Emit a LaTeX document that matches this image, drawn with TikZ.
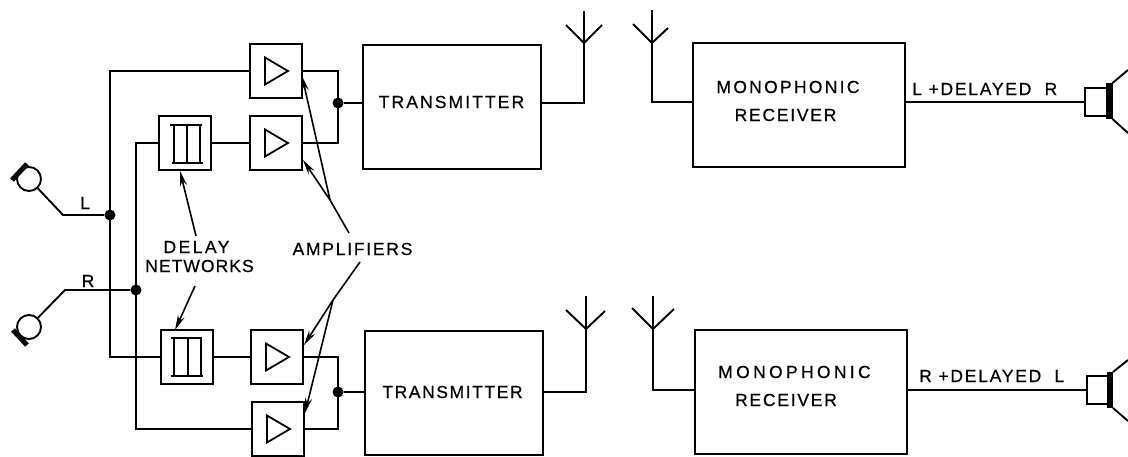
\documentclass[tikz,border=0pt]{standalone}
\usepackage{fontspec}
\setmainfont{Liberation Sans}
\newfontfamily\lab[FakeBold=0.5]{Liberation Sans}
\newcommand\lsp[1]{\addfontfeature{LetterSpace=#1}}
\usetikzlibrary{arrows.meta,calc}
\tikzset{
  wire/.style={line width=1.9pt,line join=miter},
  blk/.style={draw,line width=1.9pt,inner sep=0pt,outer sep=0pt},
  ampbox/.style={blk,minimum width=52pt,minimum height=54pt},
  dotj/.style={circle,fill=black,inner sep=0pt,minimum size=11pt},
  micr/.style={circle,draw,line width=1.9pt,inner sep=0pt,minimum size=24pt},
  micbar/.style={line width=5pt},
  lbl/.style={font=\lab\fontsize{17.5}{20}\selectfont,inner sep=0pt},
  ptr/.style={line width=1.6pt,-{Stealth[length=15pt,width=7pt]}},
  ptrl/.style={line width=1.6pt},
  tri/.style={line width=1.8pt,line join=miter},
  bars/.style={line width=1.8pt},
  spk/.style={blk,minimum width=26pt,minimum height=28pt},
  spkbar/.style={fill=black,inner sep=0pt,outer sep=0pt,minimum width=7pt}
}
\begin{document}
\begin{tikzpicture}[x=1pt,y=-1pt]
\useasboundingbox (0,0) rectangle (1128,457);
% boxes
\node[ampbox] (a1) at (276,71) {};
\node[ampbox] (a2) at (276,143) {};
\node[ampbox] (d1) at (185,143) {};
\node[ampbox] (d2) at (187,357) {};
\node[ampbox] (a3) at (277,357) {};
\node[ampbox] (a4) at (278,429) {};
\node[blk,minimum width=178pt,minimum height=124pt] (t1) at (452,107) {};
\node[blk,minimum width=178pt,minimum height=124pt] (t2) at (454,393) {};
\node[blk,minimum width=212pt,minimum height=124pt] (m1) at (799,105) {};
\node[blk,minimum width=212pt,minimum height=124pt] (m2) at (801,392) {};
% triangles
\foreach \b in {a1,a2,a3,a4}{
  \draw[tri] ($(\b.center)+(-11,-13.5)$) -- ($(\b.center)+(12,0)$) -- ($(\b.center)+(-11,13.5)$) -- cycle;
}
% delay networks
\draw[bars] (170,125) -- (202,125) (172,163) -- (203,163) (174,125) -- (174,163) (187,125) -- (187,163) (200,125) -- (200,163);
\draw[bars] (171,338) -- (202,338) (171,376) -- (203,376) (174,338) -- (174,376) (188,338) -- (188,376) (201,338) -- (201,376);
% junctions
\node[dotj] (jl) at (110,215) {};
\node[dotj] (jr) at (136,290) {};
\node[dotj] (j1) at (338,103) {};
\node[dotj] (j2) at (338,392) {};
% microphones
\node[micr] (micl) at (29,179) {};
\node[micr] (micr2) at (29,327) {};
\draw[micbar] (12,180) -- (27,164);
\draw[micbar] (13,330) -- (27,345);
\coordinate (lk) at (63,215);
\coordinate (rk) at (65,290);
\draw[wire] (micl) -- (lk) -- (jl);
\draw[wire] (micr2) -- (rk) -- (jr);
\node[lbl] (ll) at (85,203) {L};
\node[lbl] (lr) at (88,281) {R};
% inputs
\coordinate (busl) at (110,71);
\coordinate (busr) at (136,143);
\draw[wire] (a1.west) -- (a1.west -| busl) -- (d2.west -| busl) -- (d2.west);
\draw[wire] (d1.west) -- (d1.west -| busr) -- (a4.west -| busr) -- (a4.west);
\draw[wire] (d1.east) -- (a2.west);
\draw[wire] (d2.east) -- (a3.west);
% outputs
\draw[wire] (a1.east) -- (a1.east -| j1) -- (a2.east -| j1) -- (a2.east);
\draw[wire] (a3.east) -- (a3.east -| j2) -- (a4.east -| j2) -- (a4.east);
\draw[wire] (j1) -- (j1 -| t1.west);
\draw[wire] (j2) -- (j2 -| t2.west);
% antennas
\coordinate (ta1) at (584,43); \coordinate (ta2) at (586,329);
\coordinate (ra1) at (652,43); \coordinate (ra2) at (653,329);
\draw[wire] (j1 -| t1.east) -- (584,103) -- (584,11);
\draw[wire] (566,25) -- (ta1) -- (602,25);
\draw[wire] (j2 -| t2.east) -- (586,392) -- (586,296);
\draw[wire] (566,310) -- (ta2) -- (605,311);
\draw[wire] (652,10) -- (652,102) -- (m1.west |- 0,102);
\draw[wire] (633,24) -- (ra1) -- (668,28);
\draw[wire] (653,296) -- (653,390) -- (m2.west |- 0,390);
\draw[wire] (632,308) -- (ra2) -- (674,309);
% speakers
\node[spk] (s1) at (1098,102) {};
\node[spkbar,minimum height=36pt] (b1) at (1109,101) {};
\node[spk,minimum width=24pt] (s2) at (1099,390) {};
\node[spkbar,minimum height=36pt,minimum width=6pt] (b2) at (1110,390) {};
\draw[wire] (m1.east |- s1) -- (s1.west);
\draw[wire] (m2.east |- s2) -- (s2.west);
\draw[wire] (b1.north east) -- (1128,70);
\draw[wire] (b1.south east) -- (1128,133);
\draw[wire] (b2.north east) -- (1128,360);
\draw[wire] (b2.south east) -- (1128,421);
% texts
\node[lbl] (tt1) at (451.5,102) {\lsp{12}TRANSMITTER};
\node[lbl] (tt2) at (452.5,392) {\lsp{9}TRANSMITTER};
\node[lbl] (mt1) at (788,87) {\lsp{13}MONOPHONIC};
\node[lbl] (rt1) at (785.5,115) {\lsp{10}RECEIVER};
\node[lbl] (mt2) at (794.5,372) {\lsp{19}MONOPHONIC};
\node[lbl] (rt2) at (786,400) {\lsp{10}RECEIVER};
\node[lbl,anchor=west] (lp) at (912,89) {\lsp{10}L +DELAYED\ \ R};
\node[lbl,anchor=west] (rp) at (919,376) {\lsp{10}R +DELAYED\ \ L};
\node[lbl] (dl) at (196.5,247) {\lsp{14}DELAY};
\node[lbl] (nw) at (199.5,266) {\lsp{6}NETWORKS};
\node[lbl] (am) at (352.5,249) {\lsp{10}AMPLIFIERS};
% pointers
\coordinate (ap1) at (330,200);
\coordinate (ap2) at (333,300);
\coordinate (am1) at (349,233);
\coordinate (am2) at (360,262);
\draw[ptrl] (am1) -- (ap1);
\draw[ptr] (ap1) -- (a1.east |- 0,76);
\draw[ptr] (ap1) -- (303,160);
\draw[ptrl] (am2) -- (ap2);
\draw[ptr] (ap2) -- (304,345);
\draw[ptr] (ap2) -- (305,413);
\coordinate (dp1) at (196,236);
\coordinate (dp2) at (195,286);
\draw[ptr] (dp1) -- (180,171);
\draw[ptr] (dp2) -- (175,330);
\end{tikzpicture}
\end{document}
